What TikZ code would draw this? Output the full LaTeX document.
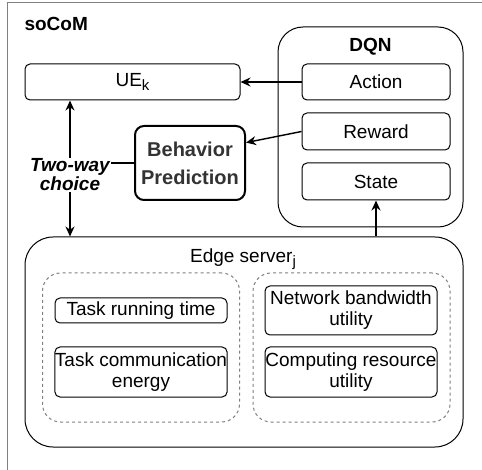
\documentclass[tikz,border=0pt]{standalone}
\usepackage{fontspec}
\setmainfont{Liberation Sans}
\usetikzlibrary{arrows.meta,calc}
\newcommand{\lowsub}[1]{\raisebox{-0.45ex}{\fontsize{15}{15}\selectfont #1}}
\begin{document}
\begin{tikzpicture}[x=1pt,y=-1pt,>={Stealth[length=10pt,width=9pt]},
  font=\fontsize{19}{21}\selectfont,
  box/.style={draw,rounded corners=5pt,line width=1pt,minimum width=172pt,align=center,inner sep=0pt},
  group/.style={draw,dashed,gray,line width=1pt,rounded corners=18pt,minimum width=197pt,minimum height=149pt},
  arr/.style={->,line width=1.4pt}]
  \useasboundingbox (0,0) rectangle (482,470);
  % frame
  \draw[gray,line width=1pt] (7,470) -- (7,3) -- (482,3);
  \node[anchor=west,font=\fontsize{19}{20}\selectfont\bfseries] (title) at (21,24) {soCoM};
  % DQN part
  \node[draw,line width=1pt,rounded corners=25pt,minimum width=185pt,minimum height=200pt] (dqn) at (370.5,127) {};
  \node[font=\fontsize{19}{20}\selectfont\bfseries] (dqnlbl) at (370.5,47) {DQN};
  \node[box,minimum width=148pt,minimum height=36pt] (action) at (376,82) {Action};
  \node[box,minimum width=148pt,minimum height=37pt] (reward) at (376,131.5) {Reward};
  \node[box,minimum width=148pt,minimum height=37pt] (state) at (376,181.5) {State};
  % user side
  \node[box,minimum width=215pt,minimum height=36pt] (ue) at (132.5,82) {UE\lowsub{k}};
  \node[box,line width=2pt,minimum width=110pt,minimum height=74pt,text=black!80,
    font=\fontsize{20}{28}\selectfont\bfseries,rounded corners=9pt] (bp) at (190,163) {Behavior\\Prediction};
  \node[align=center,font=\fontsize{19}{19}\selectfont\bfseries\itshape,inner sep=1pt] (choice) at (70,175) {Two-way\\choice};
  % edge server
  \node[draw,line width=1pt,rounded corners=28pt,minimum width=438pt,minimum height=210pt] (edge) at (244,342) {};
  \node (edgelbl) at (243,259) {Edge server\lowsub{j}};
  \node[group] (left) at (141,347.5) {};
  \node[group] (right) at (351.5,347.5) {};
  \node[box,minimum height=25pt] (trt) at (141,310.5) {Task running time};
  \node[box,minimum height=50pt] (tce) at (141,372) {Task communication\\energy};
  \node[box,minimum height=49pt] (nbu) at (351,310.5) {Network bandwidth\\utility};
  \node[box,minimum height=50pt] (cru) at (351,372) {Computing resource\\utility};
  % connectors
  \draw[arr] (action) -- (ue);
  \draw[arr] (reward.west) -- (bp.20);
  \draw[line width=1.4pt] (bp.west) -- (bp.west -| choice.east);
  \draw[arr] (choice.north) -- (choice.north |- ue.south);
  \draw[arr] (choice.south) -- (choice.south |- edge.north);
  \draw[arr] (state.south |- edge.north) -- (state.south);
\end{tikzpicture}
\end{document}
